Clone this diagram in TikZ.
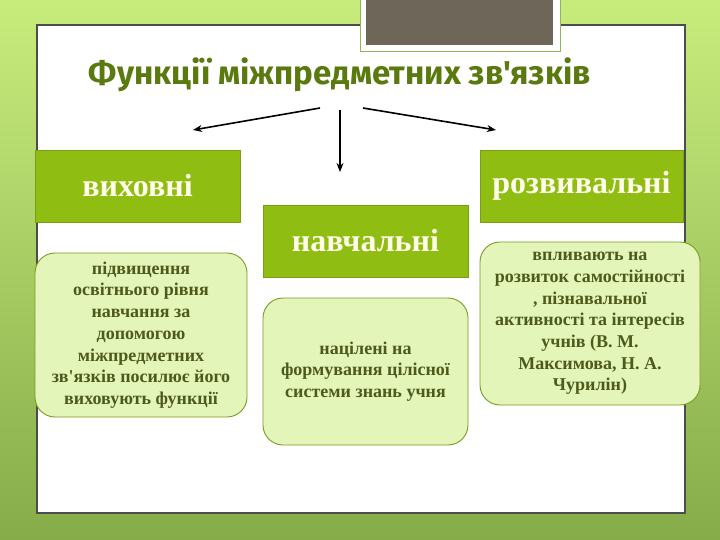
\documentclass[tikz,border=0pt]{standalone}
\usepackage{fontspec}
\setmainfont{Liberation Serif}[Ligatures=TeXOff]
\newfontfamily\titlefont{Fira Sans}[Ligatures=TeXOff]
\usepackage{xcolor}
\usetikzlibrary{arrows.meta}

\definecolor{bgtop}{HTML}{C8EC7C}
\definecolor{bgbot}{HTML}{86AC4A}
\definecolor{headgreen}{HTML}{8FBD12}
\definecolor{headline}{HTML}{7A9E14}
\definecolor{notefill}{HTML}{E3F5B8}
\definecolor{noteline}{HTML}{7C9A1E}
\definecolor{notetext}{HTML}{4E5A1C}
\definecolor{titlegreen}{HTML}{5A7A10}
\definecolor{photogray}{HTML}{6E6759}

\begin{document}
\begin{tikzpicture}[x=1pt, y=-1pt,
    head/.style={draw=headline, fill=headgreen, rectangle, minimum height=72pt,
        text=white!92!yellow, font=\fontsize{32}{38}\selectfont\bfseries},
    note/.style={draw=noteline, line width=0.9pt, fill=notefill, rectangle, rounded corners=20pt,
        text=notetext, align=center, font=\fontsize{18}{21.7}\selectfont\bfseries},
    link/.style={-{Stealth[length=9pt, width=7pt]}, line width=1.6pt}]
    \useasboundingbox (0,0) rectangle (720,540);
    \shade[top color=bgtop, bottom color=bgbot] (0,0) rectangle (720,540);
    \draw[fill=white, draw=black!70, line width=1.2pt] (37,25) rectangle (685,513);
    \draw[fill=white, draw=bgbot!90, line width=1pt] (360,-2) rectangle (560,52);
    \fill[photogray] (366,-2) rectangle (553,45);

    \node (title) [text=titlegreen, font=\titlefont\fontsize{33}{36}\selectfont\bfseries] at (340,75) {Функції міжпредметних зв'язків};

    \node (vyh) [head, minimum width=205pt] at (137.5,186) {виховні};
    \node (navch) [head, minimum width=205pt] at (365.5,241) {навчальні};
    \node (rozv) [head, minimum width=203pt] at (581.5,186) {розвивальні};

    \node (vyhnote) [note, minimum width=212pt, minimum height=164pt] at (141,335)
        {підвищення\\освітнього рівня\\навчання за\\допомогою\\міжпредметних\\зв'язків посилює його\\виховують функції};
    \node (navchnote) [note, minimum width=205pt, minimum height=147pt] at (365.5,371.5)
        {націлені на\\формування цілісної\\системи знань учня};
    \node (rozvnote) [note, minimum width=220pt, minimum height=163pt] at (590,323.5)
        {впливають на\\розвиток самостійності\\, пізнавальної\\активності та інтересів\\учнів (В. М.\\Максимова, Н. А.\\Чурилін)};

    \coordinate (lfrom) at (320,108);
    \coordinate (lto) at (193,130);
    \coordinate (mfrom) at (340,110);
    \coordinate (mto) at (340,172);
    \coordinate (rfrom) at (363,108);
    \coordinate (rto) at (496,130);
    \draw[link] (lfrom) -- (lto);
    \draw[link] (mfrom) -- (mto);
    \draw[link] (rfrom) -- (rto);
\end{tikzpicture}
\end{document}
